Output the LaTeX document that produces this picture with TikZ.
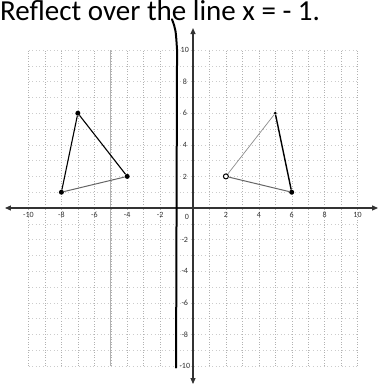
\documentclass[tikz,border=0pt]{standalone}
\usepackage{fontspec}
\setmainfont{Carlito}
\usetikzlibrary{arrows.meta}
\begin{document}
\begin{tikzpicture}[x=16.45pt,y=15.8pt,
  vgridline/.style={gray!60,line width=0.4pt,dash pattern=on 0.8pt off 1.8pt},
  hgridline/.style={gray!40,line width=0.35pt,dash pattern=on 0.6pt off 3pt},
  axisline/.style={black!80,line width=1.1pt,-{Triangle[length=6pt,width=5pt]}},
  ticklab/.style={font=\fontsize{8}{9}\selectfont,text=black!80,inner sep=0pt},
  vdot/.style={circle,fill=black,inner sep=0pt,minimum size=5pt},
  odot/.style={circle,draw=black,line width=1pt,fill=white,inner sep=0pt,minimum size=5pt},
  edgedark/.style={black,line width=1.1pt},
  edgegray/.style={black!60,line width=1pt},
  edgelight/.style={black!45,line width=0.7pt},
  handline/.style={black,line width=2pt,line cap=round}]
\useasboundingbox (-11.733,-11.329) rectangle (11.307,13.165);
% grid
\foreach \i in {-10,...,10} {
  \draw[vgridline] (\i,-10) -- (\i,10);
  \draw[hgridline] (-10,\i) -- (10,\i);
}
\draw[gray!60,line width=0.8pt] (-5,-10) -- (-5,10);
% axes
\coordinate (xl) at (-11.43,0);
\coordinate (xr) at (11.25,0);
\coordinate (yb) at (0,-11.14);
\coordinate (yt) at (0,11.39);
\coordinate (o) at (0,0);
\draw[axisline] (o) -- (xr);
\draw[axisline] (o) -- (xl);
\draw[axisline] (o) -- (yt);
\draw[axisline] (o) -- (yb);
% tick labels
\foreach \v/\t in {-10/-10,-8/-8,-6/-6,-4/-4,-2/-2,2/2,4/4,6/6,8/8,10/10} {
  \node[ticklab] (xt\v) at (\v,-0.45) {\t};
  \node[ticklab] (yl\v) at (-0.5,\v) {\t};
}
\node[ticklab] (xt0) at (-0.37,-0.55) {0};
% hand-drawn reflection line x = -1
\coordinate (h1) at (-1.28,11.95);
\coordinate (h2) at (-0.97,10.0);
\coordinate (h3) at (-1.03,-10.1);
\draw[handline] (h1) .. controls (-1.05,11.3) .. (h2) -- (h3);
% title
\node[anchor=base west,inner sep=0pt,font=\fontsize{29}{30}\selectfont] (title) at (-11.733,11.85) {Reflect over the line x = - 1.};
% original triangle
\node[vdot] (A) at (-8,1) {};
\node[vdot] (B) at (-7,6) {};
\node[vdot] (C) at (-4,2) {};
\draw[edgedark] (A) -- (B);
\draw[edgedark] (B) -- (C);
\draw[edgegray] (A) -- (C);
% image triangle
\node[vdot] (Ap) at (6,1) {};
\node[vdot,minimum size=3pt] (Bp) at (5,6) {};
\node[odot] (Cp) at (2,2) {};
\draw[edgelight] (Cp) -- (Bp);
\draw[edgedark,line width=1.4pt] (Bp) -- (Ap);
\draw[edgegray] (Cp) -- (Ap);
\end{tikzpicture}
\end{document}
